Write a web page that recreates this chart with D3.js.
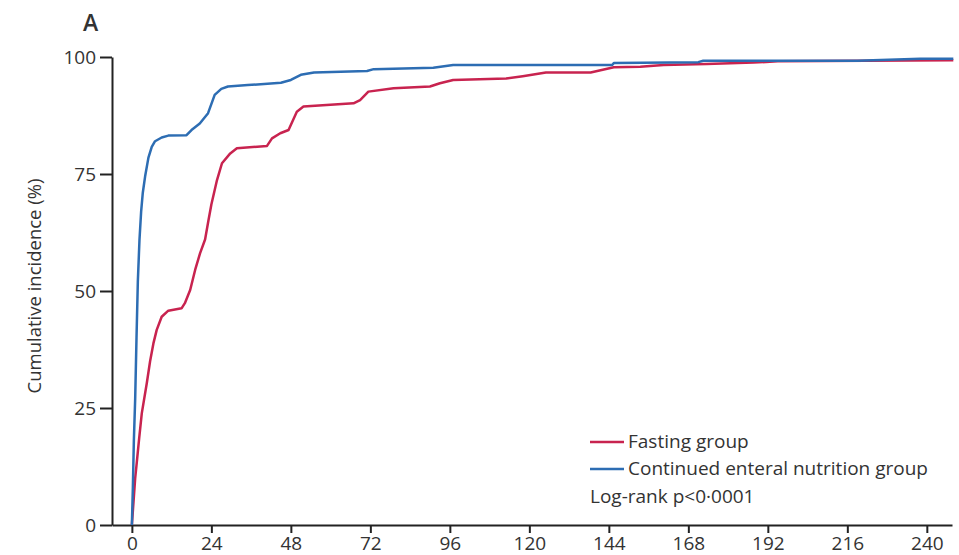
<!DOCTYPE html>
<html>
<head>
<meta charset="utf-8">
<script src="https://cdn.jsdelivr.net/npm/d3@7/dist/d3.min.js"></script>
<style>
  body { margin: 0; background: #fff; }
  text { font-family: "Open Sans", "Noto Sans", sans-serif; fill: #333; }
</style>
</head>
<body>
<svg width="959" height="555"></svg>
<script>
// hours since randomisation vs cumulative incidence (%)
var fastingHours = [0, 0.5, 1, 1.5, 2.2, 3, 4.5, 5.5, 6.5, 7.5, 9, 11, 15, 16, 17.6, 19.1, 20.6, 22.1, 23.1, 24,
  25.7, 27.2, 29.7, 31.7, 40.8, 42.3, 44.8, 47.3, 49.8, 51.8, 66.9, 68.9, 71.4, 79, 90, 93, 97, 113, 118, 125,
  138.5, 145.5, 153.5, 160.5, 173.5, 187.7, 195, 248];
var fastingIncidence = [0, 5, 10, 13.5, 18.5, 23.9, 30.3, 35, 38.8, 41.7, 44.5, 45.8, 46.3, 47.4, 50.2, 54.5, 58.1, 61, 65, 68.5,
  73.7, 77.3, 79.4, 80.5, 81, 82.6, 83.7, 84.4, 88.3, 89.4, 90.1, 90.8, 92.6, 93.3, 93.7, 94.4, 95.1, 95.4, 95.9, 96.7,
  96.7, 97.8, 97.9, 98.3, 98.5, 98.8, 99.1, 99.3];

var enHours = [0, 0.3, 0.6, 1, 1.4, 1.8, 2.3, 2.8, 3.3, 4, 5, 6, 7, 9, 11, 16.5, 18, 20.5, 23, 25, 27, 29, 35,
  45, 48, 51, 55, 71, 73, 91, 97, 145, 145.5, 171, 172.5, 219, 238, 248];
var enIncidence = [0, 8, 18, 27, 40, 52, 61, 67, 71, 74.5, 78.5, 80.8, 82, 82.8, 83.2, 83.3, 84.4, 85.8, 88, 91.9, 93.2, 93.7, 94,
  94.5, 95.1, 96.2, 96.7, 97, 97.4, 97.7, 98.3, 98.3, 98.7, 98.9, 99.2, 99.2, 99.6, 99.6];

var xTicks = [0, 24, 48, 72, 96, 120, 144, 168, 192, 216, 240];
var yTicks = [0, 25, 50, 75, 100];

var groupNames = ["Fasting group", "Continued enteral nutrition group"];
var groupColors = ["#c8234f", "#2d6db3"];

var svg = d3.select("svg");

var x = d3.scaleLinear().domain([-6, 247.6]).range([112, 952]);
var y = d3.scaleLinear().domain([0, 100]).range([525, 57]);

svg.append("g")
    .attr("transform", "translate(112,0)")
    .call(d3.axisLeft(y).tickValues(yTicks).tickSize(12).tickPadding(4).tickSizeOuter(0));

svg.append("g")
    .attr("transform", "translate(0,525)")
    .call(d3.axisBottom(x).tickValues(xTicks).tickSize(8).tickPadding(4).tickSizeOuter(0));

svg.selectAll(".domain, .tick line")
    .attr("stroke", "#222")
    .attr("stroke-width", 2);
svg.selectAll(".tick text")
    .style("font-size", "19px")
    .attr("fill", "#333");

var line = d3.line()
    .x(function(d) { return x(d[0]); })
    .y(function(d) { return y(d[1]); });

var series = [
  d3.zip(fastingHours, fastingIncidence),
  d3.zip(enHours, enIncidence)
];

svg.selectAll(".curve")
    .data(series)
    .enter().append("path")
    .attr("class", "curve")
    .attr("d", line)
    .attr("fill", "none")
    .attr("stroke", function(d, i) { return groupColors[i]; })
    .attr("stroke-width", 2.5)
    .attr("stroke-linejoin", "round");

// y title
svg.append("text")
    .attr("transform", "translate(41,286) rotate(-90)")
    .attr("text-anchor", "middle")
    .style("font-size", "18.5px")
    .text("Cumulative incidence (%)");

// panel label
svg.append("text")
    .attr("x", 83)
    .attr("y", 31)
    .style("font-size", "23px")
    .style("font-weight", 600)
    .attr("fill", "#222")
    .text("A");

// legend
var legend = svg.append("g").attr("transform", "translate(590,442)");
groupNames.forEach(function(name, i) {
  legend.append("line")
      .attr("x1", 0).attr("x2", 34)
      .attr("y1", i * 27).attr("y2", i * 27)
      .attr("stroke", groupColors[i])
      .attr("stroke-width", 2.5);
  legend.append("text")
      .attr("x", 38)
      .attr("y", i * 27 + 6)
      .style("font-size", "19px")
      .text(name);
});
legend.append("text")
    .attr("x", 0)
    .attr("y", 61)
    .style("font-size", "19px")
    .text("Log-rank p<0\u00b70001");
</script>
</body>
</html>
